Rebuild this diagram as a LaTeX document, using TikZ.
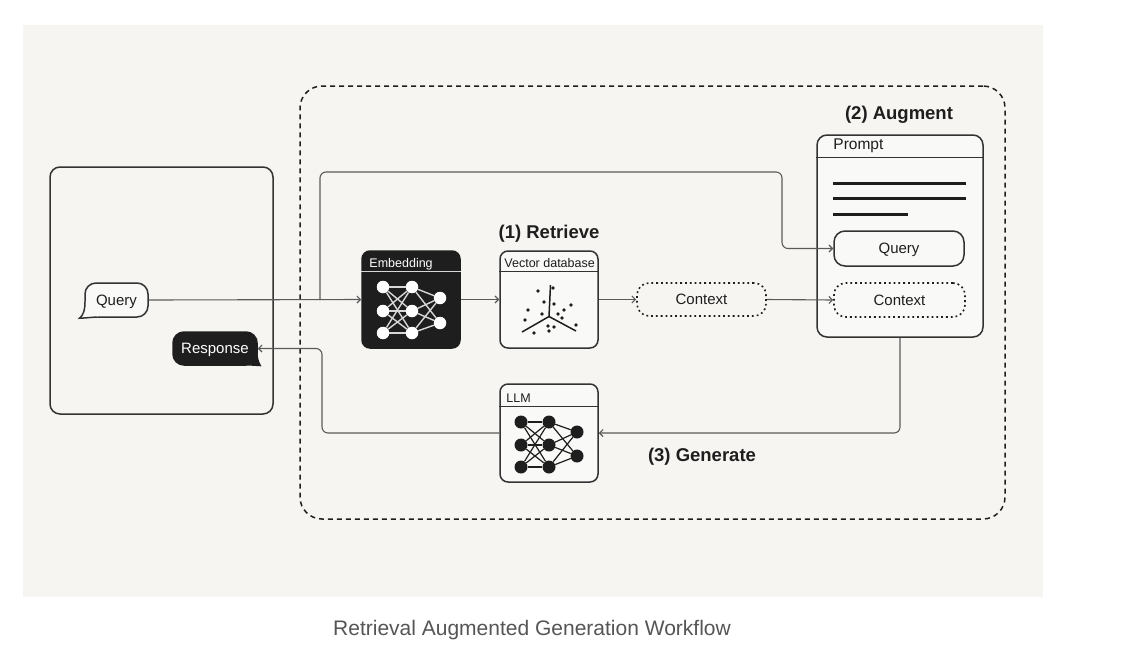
\documentclass[tikz,border=0pt]{standalone}
\usepackage{fontspec}
\setmainfont{Liberation Sans}
\usetikzlibrary{arrows.meta,calc}
\definecolor{bg}{HTML}{F6F5F1}
\definecolor{boxfill}{HTML}{F9F9F7}
\definecolor{ink}{HTML}{1E1E1E}
\definecolor{edge}{HTML}{333333}
\definecolor{wire}{HTML}{5A5A5A}
\definecolor{capgray}{HTML}{555555}
\definecolor{netlight}{HTML}{D8D8D8}
\begin{document}
\begin{tikzpicture}[x=1pt,y=-1pt,
  >={Straight Barb[length=3.5pt,width=7pt]},
  panel/.style={draw=edge, line width=1.5pt, rounded corners=10pt, inner sep=0pt},
  ragbox/.style={draw=ink, line width=1.5pt, dash pattern=on 5pt off 4pt, rounded corners=22pt, inner sep=0pt},
  darkbox/.style={draw=ink, fill=ink, line width=1.5pt, rounded corners=8pt, inner sep=0pt, minimum width=98pt, minimum height=97pt},
  lightbox/.style={draw=edge, fill=boxfill, line width=1.5pt, rounded corners=8pt, inner sep=0pt, minimum width=98pt, minimum height=97pt},
  pill/.style={draw=edge, line width=1.5pt, rounded corners=11pt, inner sep=0pt, text=ink, font=\fontsize{15}{17}\selectfont, text height=10.8pt, text depth=0pt},
  dotbox/.style={draw=ink, line width=1.6pt, dash pattern=on 1.8pt off 3pt, rounded corners=12pt, inner sep=0pt, text=ink, font=\fontsize{15}{17}\selectfont, text height=10.8pt, text depth=0pt},
  conn/.style={draw=wire, line width=1.1pt},
  head/.style={anchor=base west, inner sep=0pt, font=\fontsize{12.5}{14}\selectfont},
  step lbl/.style={font=\bfseries\fontsize{18.5}{21}\selectfont, text=ink, inner sep=0pt, text height=13.2pt, text depth=0pt},
  wnode/.style={circle, fill=white, inner sep=0pt, minimum size=12.5pt},
  bnode/.style={circle, fill=ink, inner sep=0pt, minimum size=13pt},
  wedge/.style={draw=netlight, line width=1.4pt},
  bedge/.style={draw=ink, line width=1.2pt}
]
\useasboundingbox (0,0) rectangle (1126,670);
\fill[white] (0,0) rectangle (1126,670);
\fill[bg] (23,25) rectangle (1043,597);

% containers
\node[panel, minimum width=223pt, minimum height=247pt] (user) at (161.5,290.5) {};
\node[ragbox, minimum width=705pt, minimum height=433pt] (rag) at (652.5,302.5) {};

% query bubble
\node[pill, fill=boxfill, minimum width=63pt, minimum height=34pt] (q) at (116.5,300) {Query};
\fill[boxfill] (85,302) .. controls (85,310) and (83.5,315) .. (79.5,318.2) .. controls (86,318) and (91,317.3) .. (97,317) -- (102,310) -- (92,300) -- cycle;
\draw[edge, line width=1.5pt] (85,302) .. controls (85,310) and (83.5,315) .. (79.5,318.2) .. controls (86,318) and (91,317.3) .. (97,317);

% response bubble (tail first, bubble on top)
\fill[ink] (257,338) .. controls (257,355) and (258,361) .. (261.5,366.3) .. controls (255,366) and (250,365.6) .. (245,365.2) -- (245,350) -- cycle;
\node[pill, draw=ink, fill=ink, text=white, minimum width=84pt, minimum height=33pt] (resp) at (215,348.5) {Response};

% embedding
\node[darkbox] (emb) at (411,299.5) {};
\node[head, text=white] (embT) at ($(emb.north west)+(8,17.3)$) {Embedding};
\draw[netlight, line width=1.2pt] ($(emb.north west)+(0,21)$) -- ($(emb.north east)+(0,21)$);
\foreach \n/\x/\y in {1/383/287, 2/383/311, 3/383/333, 4/412/287, 5/412/311, 6/412/333, 7/440/298, 8/440/323}
  \node[wnode] (e\n) at (\x,\y) {};
\foreach \a in {1,2,3} \foreach \b in {4,5,6} \draw[wedge] (e\a) -- (e\b);
\foreach \a in {4,5,6} \foreach \b in {7,8} \draw[wedge] (e\a) -- (e\b);

% vector database
\node[lightbox] (vdb) at (549,299.5) {};
\node[head, text=ink] (vdbT) at ($(vdb.north west)+(5,17.3)$) {Vector database};
\draw[edge, line width=1.3pt] ($(vdb.north west)+(0,21)$) -- ($(vdb.north east)+(0,21)$);
\draw[ink, line width=1.5pt] (549,316.5) -- (550.5,285);
\draw[ink, line width=1.5pt] (549,316.5) -- (522,332);
\draw[ink, line width=1.5pt] (549,316.5) -- (576,331);
\foreach \x/\y in {538/291, 553/288, 544/302, 554/304, 571/305, 528/310, 564/310, 542/314, 558/314, 562/318, 525/320, 576/325, 548/326, 554/327, 549/331, 534/333}
  \fill[ink] (\x,\y) circle (1.8pt);

% context
\node[dotbox, minimum width=129pt, minimum height=33pt] (ctx) at (701.5,299.5) {Context};

% prompt
\node[lightbox, rounded corners=10pt, minimum width=166pt, minimum height=202pt] (prompt) at (900,236) {};
\node[head, text=ink, font=\fontsize{15.5}{17}\selectfont] (promptT) at ($(prompt.north west)+(17,15)$) {Prompt};
\draw[edge, line width=1.3pt] ($(prompt.north west)+(0,23)$) -- ($(prompt.north east)+(0,23)$);
\draw[ink, line width=3pt] (833,183) -- (966,183);
\draw[ink, line width=3pt] (833,198) -- (966,198);
\draw[ink, line width=3pt] (833,214) -- (908,214);
\node[pill, minimum width=130pt, minimum height=35pt] (pq) at (899,248.5) {Query};
\node[dotbox, minimum width=131pt, minimum height=34pt] (pc) at (899.5,300) {Context};

% LLM
\node[lightbox, minimum height=98pt] (llm) at (549,433) {};
\node[head, text=ink] (llmT) at ($(llm.north west)+(7,19)$) {LLM};
\draw[edge, line width=1.3pt] ($(llm.north west)+(0,23)$) -- ($(llm.north east)+(0,23)$);
\foreach \n/\x/\y in {1/521/422, 2/521/445, 3/521/467, 4/549/422, 5/549/445, 6/549/467, 7/577/432, 8/577/456}
  \node[bnode] (l\n) at (\x,\y) {};
\foreach \a in {1,2,3} \foreach \b in {4,5,6} \draw[bedge] (l\a) -- (l\b);
\foreach \a in {4,5,6} \foreach \b in {7,8} \draw[bedge] (l\a) -- (l\b);

% step labels
\node[step lbl] (s1) at (549,232) {(1) Retrieve};
\node[step lbl] (s2) at (899,113) {(2) Augment};
\node[step lbl] (s3) at (702,455) {(3) Generate};

% connectors
\coordinate (br) at (320,300);
\coordinate (k1) at (782,172);
\coordinate (k2) at (322,433);
\draw[conn, ->] (q.east) -- (emb.west);
\draw[conn, ->, rounded corners=6pt] (br) -- (br |- k1) -- (k1) -- (k1 |- pq.west) -- (pq.west);
\draw[conn, ->] (emb.east) -- (vdb.west);
\draw[conn, ->] (vdb.east) -- (ctx.west);
\draw[conn, ->] (ctx.east) -- (pc.west);
\draw[conn, ->, rounded corners=6pt] (prompt.south) |- (llm.east);
\draw[conn, ->, rounded corners=6pt] (llm.west) -- (k2) -- (k2 |- resp.east) -- (resp.east);

% caption
\node[text=capgray, font=\fontsize{21}{24}\selectfont, inner sep=0pt, anchor=base] (caption) at (532,635) {Retrieval Augmented Generation Workflow};
\end{tikzpicture}
\end{document}
